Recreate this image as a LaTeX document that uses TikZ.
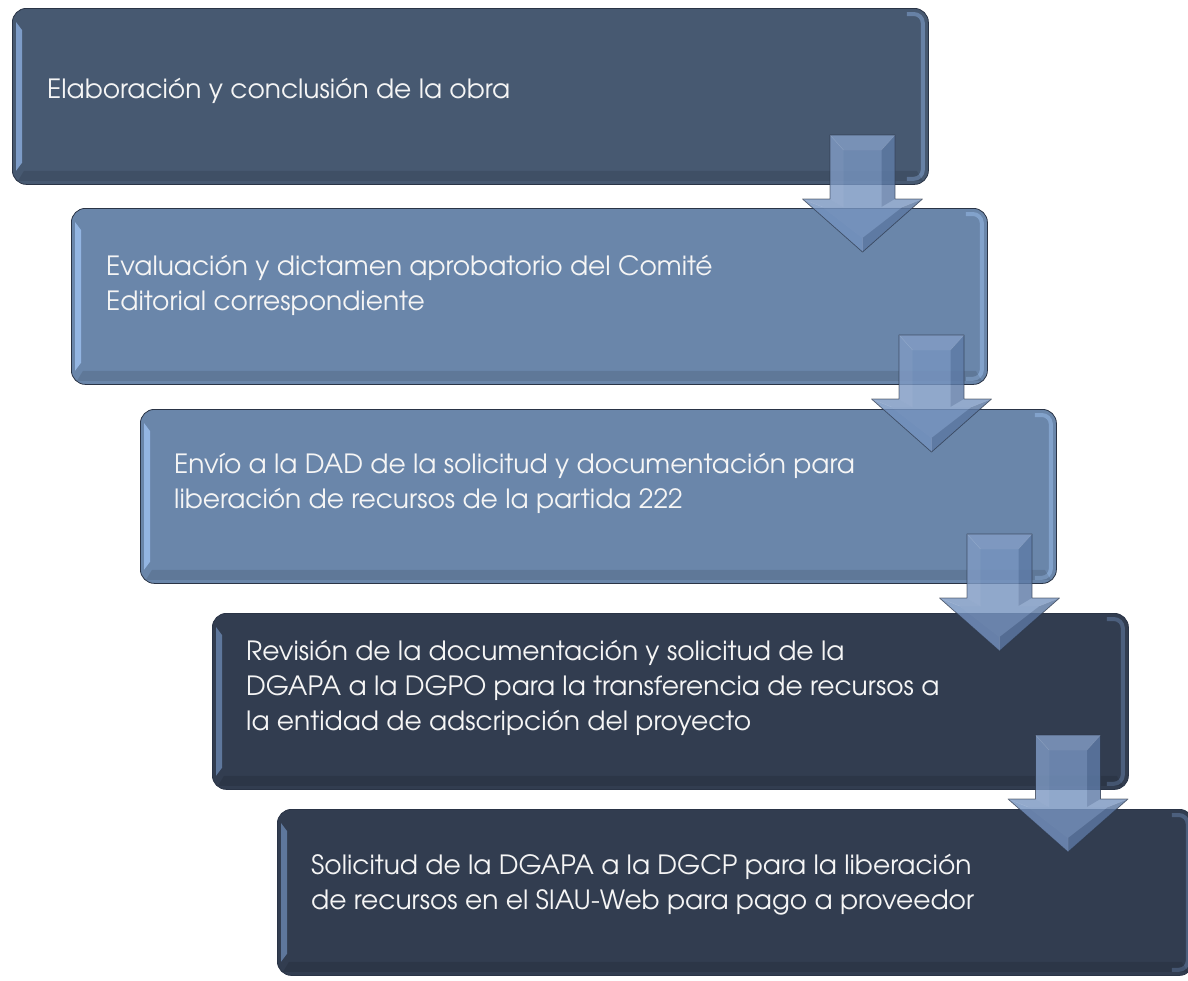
\documentclass[tikz,border=0pt]{standalone}
\usepackage{fontspec}
\setmainfont{texgyreadventor-regular.otf}
\usetikzlibrary{calc}
\definecolor{boxA}{HTML}{475971}
\definecolor{boxB}{HTML}{6A86AA}
\definecolor{boxC}{HTML}{323D50}
\definecolor{hlA}{HTML}{7D9CC8}
\definecolor{hlB}{HTML}{93B5E2}
\definecolor{hlC}{HTML}{5E779C}
\definecolor{arr}{HTML}{6989B9}
\definecolor{edgec}{HTML}{2A3446}
\newcommand{\boxbevel}[2]{%
  \fill[#2] ($(#1.north west)+(4,14)$) -- ($(#1.north west)+(10,22)$) -- ($(#1.south west)+(10,-22)$) -- ($(#1.south west)+(4,-14)$) -- cycle;
  \draw[#2, draw opacity=0.6, line width=4pt, rounded corners=9pt] ($(#1.north east)+(-22,6)$) -- ($(#1.north east)+(-6,6)$) -- ($(#1.south east)+(-6,-6)$) -- ($(#1.south east)+(-22,-6)$);
  \fill[black, fill opacity=0.10] ($(#1.south west)+(12,-14)$) -- ($(#1.south east)+(-12,-14)$) -- ($(#1.south east)+(-6,-4)$) -- ($(#1.south west)+(6,-4)$) -- cycle;
}
\newcommand{\blockarrow}[1]{%
  \begin{scope}[shift={(#1)}]
    \fill[arr, fill opacity=0.8] (-32.5,0) -- (32.5,0) -- (32.5,64) -- (60,64) -- (0,117) -- (-60,64) -- (-32.5,64) -- cycle;
    \fill[white, fill opacity=0.14] (-32.5,0) -- (32.5,0) -- (19,15) -- (-19,15) -- cycle;
    \fill[white, fill opacity=0.12] (-32.5,64) -- (-32.5,0) -- (-19,15) -- (-19,72) -- cycle;
    \fill[black, fill opacity=0.08] (32.5,0) -- (32.5,64) -- (19,72) -- (19,15) -- cycle;
    \fill[white, fill opacity=0.10] (32.5,64) -- (60,64) -- (40,72) -- (19,72) -- cycle;
    \fill[white, fill opacity=0.10] (-32.5,64) -- (-60,64) -- (-40,72) -- (-19,72) -- cycle;
    \fill[black, fill opacity=0.10] (60,64) -- (0,117) -- (0,103) -- (40,72) -- cycle;
    \fill[white, fill opacity=0.06] (-60,64) -- (0,117) -- (0,103) -- (-40,72) -- cycle;
    \fill[white, fill opacity=0.08] (-19,15) -- (19,15) -- (19,72) -- (40,72) -- (0,103) -- (-40,72) -- (-19,72) -- cycle;
    \draw[edgec, draw opacity=0.7, line width=0.7pt, line join=round] (-32.5,0) -- (32.5,0) -- (32.5,64) -- (60,64) -- (0,117) -- (-60,64) -- (-32.5,64) -- cycle;
    \draw[white, draw opacity=0.12, line width=0.5pt] (-32.5,0) -- (-19,15) (32.5,0) -- (19,15) (60,64) -- (40,72) (-60,64) -- (-40,72) (0,117) -- (0,103);
  \end{scope}}
\begin{document}
\begin{tikzpicture}[x=1pt,y=-1pt,
  stepbox/.style={draw=edgec, line width=0.8pt, rounded corners=14pt, minimum width=916pt, minimum height=176pt, anchor=north west, inner sep=0pt},
  steptext/.style={anchor=base west, align=left, text=white!96!black, inner sep=0pt, font=\fontsize{26.5}{35}\selectfont},
]
\useasboundingbox (0,0) rectangle (1188,980);
\clip (0,0) rectangle (1188,980);
% boxes
\node[stepbox, fill=boxA] (b1) at (12,8) {};
\node[stepbox, fill=boxB] (b2) at (71,208) {};
\node[stepbox, fill=boxB, minimum height=174pt] (b3) at (140,409) {};
\node[stepbox, fill=boxC] (b4) at (212,613) {};
\node[stepbox, fill=boxC, minimum height=166pt] (b5) at (277,809) {};
\boxbevel{b1}{hlA}
\boxbevel{b2}{hlB}
\boxbevel{b3}{hlB}
\boxbevel{b4}{hlC}
\boxbevel{b5}{hlC}
% texts (anchor = baseline of last line)
\node[steptext] (t1) at (47,98) {Elaboración y conclusión de la obra};
\node[steptext] (t2) at (106,310) {Evaluación y dictamen aprobatorio del Comité\\Editorial correspondiente};
\node[steptext] (t3) at (174,508) {Envío a la DAD de la solicitud y documentación para\\liberación de recursos de la partida 222};
\node[steptext] (t4) at (246,730) {Revisión de la documentación y solicitud de la\\DGAPA a la DGPO para la transferencia de recursos a\\la entidad de adscripción del proyecto};
\node[steptext] (t5) at (311,909) {Solicitud de la DGAPA a la DGCP para la liberación\\de recursos en el SIAU-Web para pago a proveedor};
% arrows between steps
\coordinate (a1) at (862.5,135);
\coordinate (a2) at (931.5,335);
\coordinate (a3) at (999.5,534);
\coordinate (a4) at (1068,735);
\blockarrow{a1}
\blockarrow{a2}
\blockarrow{a3}
\blockarrow{a4}
\end{tikzpicture}
\end{document}
